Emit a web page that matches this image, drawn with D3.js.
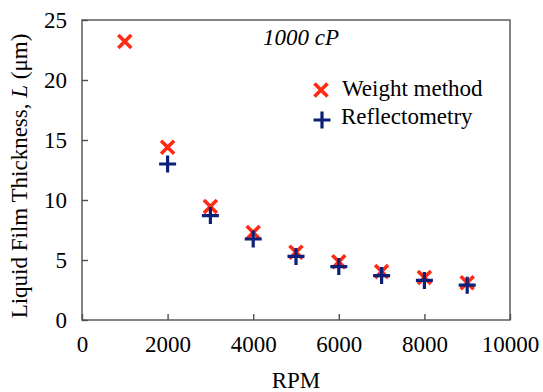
<!DOCTYPE html>
<html>
<head>
<meta charset="utf-8">
<script src="https://cdn.jsdelivr.net/npm/d3@7"></script>
<style>
  body { margin: 0; background: #fff; }
</style>
</head>
<body>
<div id="chart"></div>
<script>
// data
const rpm = [1000, 2000, 3000, 4000, 5000, 6000, 7000, 8000, 9000];
const weightMethod = [23.2, 14.4, 9.45, 7.3, 5.65, 4.85, 4.05, 3.55, 3.1];
const reflectRpm = [2000, 3000, 4000, 5000, 6000, 7000, 8000, 9000];
const reflectometry = [13.0, 8.7, 6.75, 5.3, 4.45, 3.7, 3.3, 2.9];
const xTicks = [0, 2000, 4000, 6000, 8000, 10000];
const yTicks = [0, 5, 10, 15, 20, 25];

const FONT = '"Liberation Serif", "Times New Roman", serif';
const FS = 23;

const W = 543, H = 392;
const margin = { top: 20, right: 33, bottom: 72, left: 82 },
  width = W - margin.left - margin.right,
  height = H - margin.top - margin.bottom;

const svg = d3.select("#chart").append("svg")
  .attr("width", W)
  .attr("height", H)
  .attr("font-family", FONT);

const g = svg.append("g")
  .attr("transform", `translate(${margin.left}, ${margin.top})`);

const x = d3.scaleLinear().domain([0, 10000]).range([0, width]);
const y = d3.scaleLinear().domain([0, 25]).range([height, 0]);

// frame
g.append("rect")
  .attr("x", 0).attr("y", 0)
  .attr("width", width).attr("height", height)
  .attr("fill", "none")
  .attr("stroke", "#505050")
  .attr("stroke-width", 1.4);

// x axis, ticks pointing inward
const xAxis = g.append("g")
  .attr("transform", `translate(0, ${height})`)
  .call(d3.axisBottom(x).tickValues(xTicks).tickFormat(d3.format("d")).tickSizeInner(-6).tickSizeOuter(0).tickPadding(16));
xAxis.attr("font-family", FONT).attr("font-size", FS);
xAxis.select(".domain").remove();
xAxis.selectAll("line").attr("stroke", "#505050").attr("stroke-width", 1.4);

// y axis
const yAxis = g.append("g")
  .call(d3.axisLeft(y).tickValues(yTicks).tickSizeInner(-6).tickSizeOuter(0).tickPadding(15));
yAxis.attr("font-family", FONT).attr("font-size", FS);
yAxis.select(".domain").remove();
yAxis.selectAll("line").attr("stroke", "#505050").attr("stroke-width", 1.4);

// axis titles
svg.append("text")
  .attr("x", margin.left + width / 2)
  .attr("y", 388)
  .attr("text-anchor", "middle")
  .attr("font-size", FS)
  .text("RPM");

const yTitle = svg.append("text")
  .attr("transform", `translate(27, ${margin.top + 156}) rotate(-90)`)
  .attr("text-anchor", "middle")
  .attr("font-size", FS);
yTitle.append("tspan").text("Liquid Film Thickness, ");
yTitle.append("tspan").attr("font-style", "italic").text("L");
yTitle.append("tspan").text(" (\u03bcm)");

// annotation
svg.append("text")
  .attr("x", 301)
  .attr("y", 45)
  .attr("text-anchor", "middle")
  .attr("font-size", FS)
  .attr("font-style", "italic")
  .text("1000 cP");

const red = "#ff2a14", navy = "#0d1f78";

function drawX(sel) {
  sel.append("path").attr("d", "M-6.5,-6.5L6.5,6.5M-6.5,6.5L6.5,-6.5")
    .attr("stroke", red).attr("stroke-width", 3.6).attr("fill", "none");
}
function drawPlus(sel) {
  sel.append("path").attr("d", "M-8.5,0L8.5,0M0,-8.5L0,8.5")
    .attr("stroke", navy).attr("stroke-width", 3.2).attr("fill", "none");
}

g.append("g").selectAll("g")
  .data(rpm.map((r, i) => ({ r, v: weightMethod[i] })))
  .enter().append("g")
  .attr("transform", d => `translate(${x(d.r)}, ${y(d.v)})`)
  .call(drawX);

g.append("g").selectAll("g")
  .data(reflectRpm.map((r, i) => ({ r, v: reflectometry[i] })))
  .enter().append("g")
  .attr("transform", d => `translate(${x(d.r)}, ${y(d.v)})`)
  .call(drawPlus);

// legend
const legend = svg.append("g");
legend.append("g").attr("transform", "translate(321, 90)").call(drawX);
legend.append("text").attr("x", 342).attr("y", 96)
  .attr("font-size", FS).text("Weight method");
legend.append("g").attr("transform", "translate(322, 120)").call(drawPlus);
legend.append("text").attr("x", 341).attr("y", 124)
  .attr("font-size", FS).text("Reflectometry");
</script>
</body>
</html>
